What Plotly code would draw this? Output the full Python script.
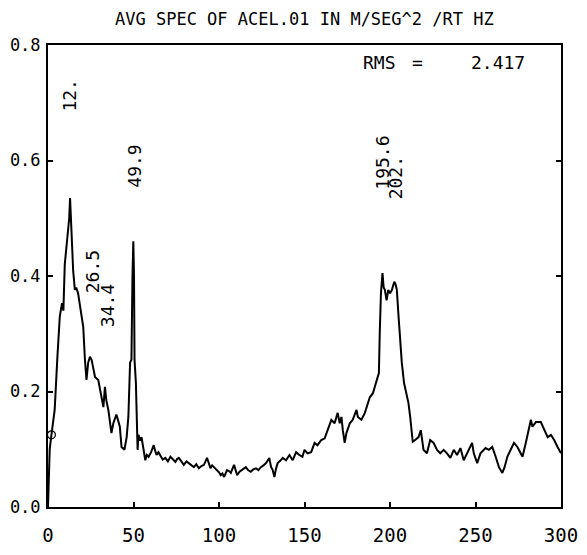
import plotly.graph_objects as go

freq = [0, 1, 2, 3.9, 5.5, 6.9, 8.2, 9.0, 9.8, 10.6, 11.2, 11.8, 12.4, 12.9, 13.4, 13.9, 14.7, 15.7,
        16.5, 17.6, 18.6, 19.6, 20.6, 21.6, 22.5, 23.5, 24.5, 25.5, 26.5, 27.5, 29.4, 30.3, 31.2,
        32.4, 33.3, 34.1, 35.3, 36.2, 37.1, 38.2, 40, 41, 42, 43, 44.7, 46, 47, 48, 48.8, 49.4,
        49.9, 50.3, 50.6, 51.4, 52, 52.4, 52.9, 53.8, 54.7, 55.8, 56.9, 57.8, 58.8, 60.3, 61.8,
        62.6, 63.5, 64.6, 65.7, 67.1, 68.6, 70.1, 71.6, 73, 74.5, 75.5, 76.5, 78, 79.4, 81, 82.4,
        83.8, 85.3, 86.7, 88.2, 89.7, 91.2, 93, 94, 95, 96, 97, 98, 99, 100, 101, 102, 103, 104.7,
        106, 106.9, 108.8, 110.6, 112, 113.5, 114.6, 115.7, 117, 118.6, 120, 121.6, 123, 124.5,
        126, 127.5, 129.4, 130.4, 131.4, 132.4, 133.3, 134.3, 135.8, 137.3, 139.2, 141.2, 143.1,
        145.1, 147, 148.8, 150, 151.8, 153.9, 155.9, 157.6, 159.8, 161.8, 163.5, 165.7, 167.6,
        169.4, 170.6, 171.6, 172.4, 173.5, 174.5, 176.5, 178.2, 180.4, 181.2, 183.3, 185.3, 187,
        188.2, 190, 191.2, 192.2, 193.5, 194, 194.7, 195.6, 196.3, 197, 198, 199, 200, 201, 202.5,
        203.3, 204, 205, 205.9, 206.9, 208.2, 209.4, 210.8, 211.8, 213.3, 214.7, 216.7, 218,
        219.6, 221.6, 223.5, 225.5, 227.5, 229.4, 231.4, 233.3, 235.3, 237.3, 239.2, 241.2, 243.1,
        245.1, 248, 249, 251, 252.9, 255.9, 257.8, 259.8, 261.8, 263.7, 265.7, 267, 268.6, 270.6,
        272.5, 274.5, 277.5, 279.4, 281.4, 282.4, 283.3, 285.3, 288.2, 290.2, 292.2, 294.1, 296,
        298, 300]

amplitude = [0.0, 0.10, 0.125, 0.168, 0.26, 0.33, 0.353, 0.34, 0.42, 0.445, 0.47, 0.49, 0.50, 0.535,
             0.50, 0.47, 0.41, 0.376, 0.38, 0.37, 0.35, 0.33, 0.312, 0.255, 0.22, 0.25, 0.26, 0.255,
             0.24, 0.225, 0.22, 0.205, 0.197, 0.173, 0.208, 0.185, 0.168, 0.15, 0.128, 0.145, 0.16,
             0.15, 0.139, 0.104, 0.099, 0.121, 0.156, 0.25, 0.255, 0.40, 0.46, 0.40, 0.255, 0.215,
             0.145, 0.099, 0.125, 0.115, 0.121, 0.10, 0.081, 0.09, 0.087, 0.095, 0.107, 0.098, 0.09,
             0.095, 0.09, 0.082, 0.085, 0.079, 0.087, 0.082, 0.078, 0.083, 0.085, 0.079, 0.073,
             0.079, 0.076, 0.072, 0.069, 0.074, 0.067, 0.071, 0.073, 0.085, 0.075, 0.067, 0.072,
             0.069, 0.066, 0.064, 0.06, 0.055, 0.058, 0.052, 0.064, 0.062, 0.059, 0.073, 0.055,
             0.061, 0.064, 0.066, 0.069, 0.064, 0.061, 0.065, 0.067, 0.064, 0.069, 0.072, 0.076,
             0.085, 0.07, 0.064, 0.052, 0.066, 0.076, 0.08, 0.085, 0.081, 0.09, 0.081, 0.095, 0.09,
             0.087, 0.099, 0.093, 0.095, 0.111, 0.107, 0.116, 0.119, 0.133, 0.151, 0.145, 0.163,
             0.145, 0.156, 0.133, 0.111, 0.128, 0.145, 0.151, 0.168, 0.156, 0.151, 0.163, 0.18,
             0.19, 0.197, 0.208, 0.22, 0.232, 0.301, 0.37, 0.405, 0.38, 0.376, 0.358, 0.376, 0.37,
             0.375, 0.39, 0.385, 0.376, 0.33, 0.29, 0.25, 0.215, 0.197, 0.18, 0.156, 0.113, 0.116,
             0.121, 0.133, 0.099, 0.093, 0.116, 0.111, 0.099, 0.093, 0.099, 0.093, 0.085, 0.099,
             0.09, 0.102, 0.081, 0.093, 0.111, 0.093, 0.076, 0.093, 0.102, 0.099, 0.104, 0.087,
             0.069, 0.059, 0.069, 0.087, 0.099, 0.111, 0.104, 0.087, 0.111, 0.139, 0.151, 0.139,
             0.147, 0.147, 0.133, 0.121, 0.125, 0.116, 0.104, 0.093]

peak_labels = ["12.", "26.5", "34.4", "49.9", "195.6", "202."]
peak_label_x = [12.5, 26.5, 34.6, 50.5, 195.6, 203.2]
peak_label_y = [0.713, 0.407, 0.348, 0.59, 0.597, 0.57]

x_ticks = [0, 50, 100, 150, 200, 250, 300]
y_ticks = [0.0, 0.2, 0.4, 0.6, 0.8]
y_tick_text = ["0.0", "0.2", "0.4", "0.6", "0.8"]

title_text = "AVG SPEC OF ACEL.01 IN M/SEG^2 /RT HZ"
rms_label = "RMS"
rms_value = "2.417"

FONT = "DejaVu Sans Mono"

fig = go.Figure()
fig.add_trace(go.Scatter(x=freq, y=amplitude, mode="lines",
                         line=dict(color="black", width=2), hoverinfo="skip"))
fig.add_trace(go.Scatter(x=[freq[2]], y=[amplitude[2]], mode="markers",
                         marker=dict(symbol="circle-open", size=8, color="black",
                                     line=dict(width=1.2)), hoverinfo="skip"))

for t, xv, yv in zip(peak_labels, peak_label_x, peak_label_y):
    fig.add_annotation(x=xv, y=yv, xref="x", yref="y", text=t, textangle=-90,
                       showarrow=False, xanchor="center", yanchor="middle",
                       font=dict(family=FONT, size=18, color="black"))

fig.add_annotation(x=0.5, y=1.0, xref="paper", yref="paper", yshift=26,
                   xanchor="center", yanchor="middle",
                   text=title_text, showarrow=False,
                   font=dict(family=FONT, size=17, color="black"))
for t, xp in zip([rms_label, "=", rms_value], [0.647, 0.721, 0.877]):
    fig.add_annotation(x=xp, y=0.963, xref="paper", yref="paper", text=t,
                       xanchor="center", yanchor="middle", showarrow=False,
                       font=dict(family=FONT, size=18, color="black"))

fig.update_layout(
    width=571, height=539,
    margin=dict(l=40, r=18, t=37, b=40, autoexpand=False),
    paper_bgcolor="white", plot_bgcolor="white",
    showlegend=False,
    font=dict(family=FONT, size=18, color="black"),
)
fig.update_xaxes(range=[0, 300], tickvals=x_ticks, ticktext=[str(v) for v in x_ticks],
                 showgrid=False, zeroline=False, showline=True, linecolor="black",
                 linewidth=2, mirror=True, ticks="inside", ticklen=5, tickwidth=1.5,
                 tickcolor="black", ticklabelstandoff=10, automargin=False,
                 tickfont=dict(family=FONT, size=19, color="black"))
fig.update_yaxes(range=[0, 0.8], tickvals=y_ticks, ticktext=y_tick_text,
                 showgrid=False, zeroline=False, showline=True, linecolor="black",
                 linewidth=2, mirror="ticks", ticks="inside", ticklen=5, tickwidth=1.5,
                 tickcolor="black", ticklabelstandoff=2, automargin=False,
                 tickfont=dict(family=FONT, size=17, color="black"))

fig.write_html("out.html")
